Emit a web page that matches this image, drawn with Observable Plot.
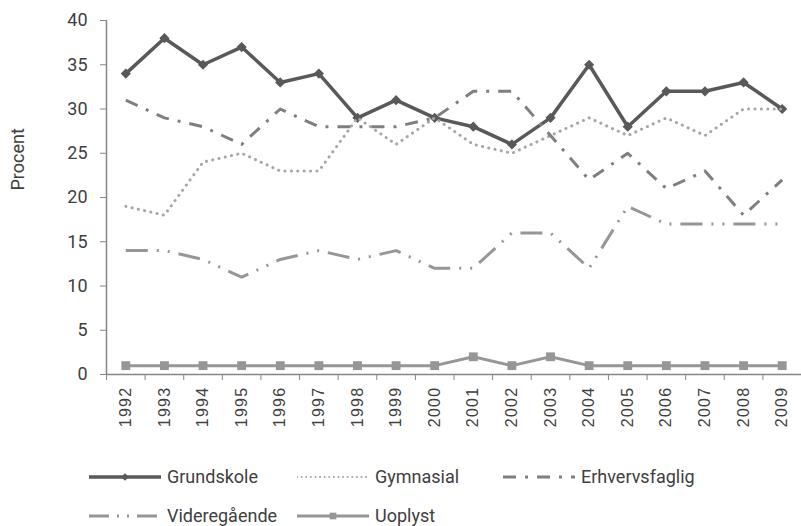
<!DOCTYPE html>
<html><head><meta charset="utf-8">
<script src="https://cdn.jsdelivr.net/npm/d3@7"></script>
<script src="https://cdn.jsdelivr.net/npm/@observablehq/plot@0.6"></script>
<style>
body{margin:0;background:#fff;font-family:Roboto,sans-serif;}
#chart svg{display:block;}
#legend{position:relative;width:801px;height:76px;}
.item{position:absolute;display:flex;align-items:center;font-size:18px;color:#404040;white-space:nowrap;transform:translateY(-50%);line-height:20px;}
.item svg{margin-right:6px;display:block;}
.yr text{letter-spacing:1.3px;}
</style></head><body>
<div id="chart"></div><div id="legend"></div>
<script>
const years = [1992,1993,1994,1995,1996,1997,1998,1999,2000,2001,2002,2003,2004,2005,2006,2007,2008,2009];
const grundskole     = [34,38,35,37,33,34,29,31,29,28,26,29,35,28,32,32,33,30];
const gymnasial      = [19,18,24,25,23,23,29,26,29,26,25,27,29,27,29,27,30,30];
const erhvervsfaglig = [31,29,28,26,30,28,28,28,29,32,32,27,22,25,21,23,18,22];
const videregaaende  = [14,14,13,11,13,14,13,14,12,12,16,16,12,19,17,17,17,17];
const uoplyst        = [1,1,1,1,1,1,1,1,1,2,1,2,1,1,1,1,1,1];
const seriesNames = ["Grundskole","Gymnasial","Erhvervsfaglig","Videregående","Uoplyst"];
const seriesValues = [grundskole, gymnasial, erhvervsfaglig, videregaaende, uoplyst];
const yTicks = [0,5,10,15,20,25,30,35,40];
const yLabel = "Procent";

const styles = [
  {color:"#595959", width:3.5, dash:null, cap:"butt", symbol:"diamond2", r:4.6},
  {color:"#a6a6a6", width:3, dash:"0.1 6.3", cap:"round"},
  {color:"#7f7f7f", width:3, dash:"13 9 3 9", cap:"butt"},
  {color:"#969696", width:3, dash:"22 9 2 9 2 9", cap:"butt"},
  {color:"#969696", width:3, dash:null, cap:"butt", symbol:"square", r:5}
];
const legendDash = [null, "0.1 4.5", "13 9 3 9", "20 8 2 8 2 8", null];

const rows = seriesNames.flatMap((name,i)=>years.map((year,j)=>({series:name, year, value:seriesValues[i][j]})));
const boundaries = [years[0]-0.5, ...years.map(y=>y+0.5)];

const seriesMarks = seriesNames.flatMap((name,i)=>{
  const s = styles[i];
  const d = rows.filter(r=>r.series===name);
  const m = [Plot.line(d,{x:"year",y:"value",stroke:s.color,strokeWidth:s.width,strokeDasharray:s.dash,strokeLinecap:s.cap,strokeLinejoin:"round"})];
  if (s.symbol) m.push(Plot.dot(d,{x:"year",y:"value",symbol:s.symbol,r:s.r,fill:s.color,stroke:"none"}));
  return m;
});

const chart = Plot.plot({
  width:801, height:450,
  marginTop:20, marginBottom:76, marginLeft:106, marginRight:0,
  style:{fontFamily:"Roboto", background:"white", overflow:"visible"},
  x:{type:"linear", domain:[years[0]-0.5, years[years.length-1]+0.5]},
  y:{domain:[0,40]},
  marks:[
    Plot.ruleY([0],{stroke:"#868686",strokeWidth:1.5}),
    Plot.ruleX([years[0]-0.5],{y1:0,y2:40,stroke:"#868686",strokeWidth:1.5}),
    Plot.axisY({ticks:yTicks, tickSize:6, tickPadding:13, fontSize:18, stroke:"#868686", fill:"#404040", label:null}),
    Plot.text([yLabel],{frameAnchor:"left", rotate:-90, dx:-88, dy:-7, fontSize:18, fill:"#404040"}),
    Plot.axisX({ticks:years, tickSize:0, tickPadding:12, tickRotate:-90, fontSize:16, fontFamily:"Liberation Sans",
      fill:"#404040", tickFormat:d=>String(d), label:null, className:"yr"}),
    Plot.axisX({ticks:boundaries, tickSize:6, stroke:"#868686", tickFormat:()=>"", label:null}),
    ...seriesMarks
  ]
});
document.getElementById("chart").appendChild(chart);

// legend
const legendPos = [[89,27],[297,27],[503,27],[89,66],[297,66]];
const legend = d3.select("#legend");
seriesNames.forEach((name,i)=>{
  const s = styles[i];
  const item = legend.append("div").attr("class","item")
    .style("left",legendPos[i][0]+"px").style("top",legendPos[i][1]+"px");
  const svg = item.append("svg").attr("width",72).attr("height",14);
  svg.append("line").attr("x1",0).attr("x2",72).attr("y1",7).attr("y2",7)
    .attr("stroke",s.color).attr("stroke-width",i===1?2:s.width)
    .attr("stroke-dasharray",legendDash[i]).attr("stroke-linecap",s.cap);
  if (s.symbol) {
    const sym = s.symbol==="square" ? d3.symbolSquare : d3.symbolDiamond2;
    svg.append("path").attr("transform","translate(36,7)")
      .attr("d",d3.symbol(sym, Math.PI*(s.r*0.75)**2)()).attr("fill",s.color);
  }
  item.append("span").text(name);
});
</script>
</body></html>
